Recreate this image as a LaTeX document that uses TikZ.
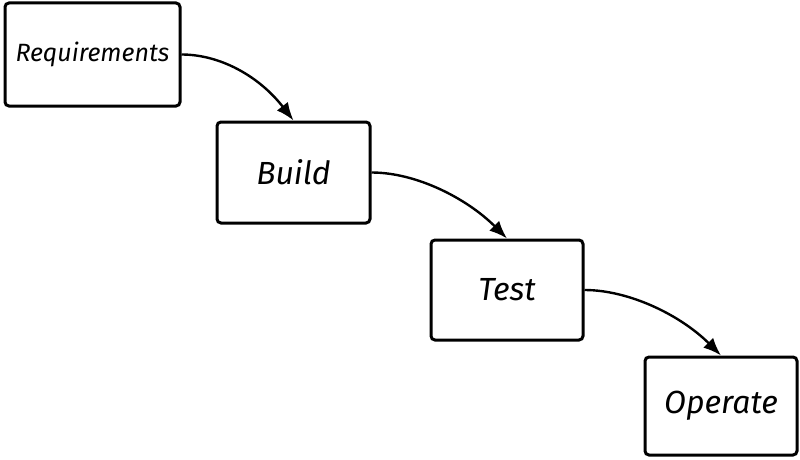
\documentclass[tikz,border=0pt]{standalone}
\usepackage{fontspec}
\setmainfont{Fira Sans}
\usetikzlibrary{arrows.meta}
\begin{document}
\begin{tikzpicture}[x=1pt,y=-1pt,
  stage/.style={draw=black, line width=3pt, rounded corners=4pt, fill=white,
    inner sep=0pt, font=\itshape\fontsize{32}{36}\selectfont},
  flow/.style={line width=2.4pt, -{Latex[length=18pt,width=14pt]}}]
\useasboundingbox (0,0) rectangle (800,460);
\node[stage, minimum width=175pt, minimum height=103pt,
  font=\itshape\fontsize{25}{28}\selectfont] (req) at (92.5,54.5) {Requirements};
\node[stage, minimum width=153pt, minimum height=101pt] (build) at (293.5,172.5) {Build};
\node[stage, minimum width=152pt, minimum height=100pt] (test) at (507,290) {Test};
\node[stage, minimum width=152pt, minimum height=98pt] (op) at (721,406) {Operate};
\draw[flow] (req.east) .. controls +(38,0) and +(-35,-45) .. (build.north);
\draw[flow] (build.east) .. controls +(45,0) and +(-40,-40) .. (test.north);
\draw[flow] (test.east) .. controls +(45,0) and +(-40,-40) .. (op.north);
\end{tikzpicture}
\end{document}
